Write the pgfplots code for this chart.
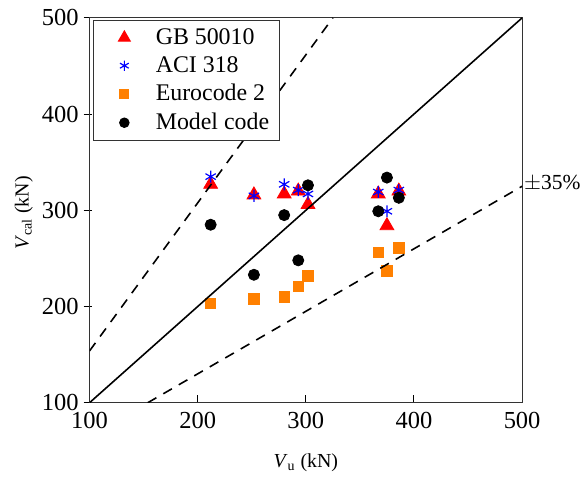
\documentclass[border=0pt]{standalone}
\usepackage{pgfplots}
\pgfplotsset{compat=1.18}
\usepackage{fontspec}
\setmainfont{Liberation Serif}
\definecolor{myorange}{RGB}{255,128,0}
\begin{document}
\begin{tikzpicture}
\begin{axis}[
  scale only axis,
  width=217.5pt, height=193.5pt,
  xmin=100, xmax=500, ymin=100, ymax=500,
  xtick={100,200,300,400,500}, ytick={100,200,300,400,500},
  xtick pos=bottom, ytick pos=left,
  tick align=inside,
  major tick length=4pt,
  y tick style={xshift=-3pt},
  tick style={black, line width=0.5pt},
  axis line style={line width=0.5pt, black!80},
  /pgf/number format/assume math mode=true,
  tick label style={font=\fontsize{12.3}{14}\selectfont},
  yticklabel style={xshift=-2pt},
  xticklabel style={yshift=-1pt},
  xlabel={\textit{V}\textsubscript{u} (kN)},
  ylabel={\textit{V}\textsubscript{cal} (kN)},
  label style={font=\fontsize{13.8}{16}\selectfont},
  every axis x label/.style={at={(axis description cs:0.5,-0.155)}, anchor=center},
  every axis y label/.style={at={(axis description cs:-0.152,0.493)}, anchor=center, rotate=90},
  legend style={at={(axis description cs:0.009,0.995)}, anchor=north west,
    font=\fontsize{12}{14}\selectfont, draw=black!80, line width=0.5pt,
    row sep=0.6pt},
  legend image code/.code={\path (0pt,0pt) (25.5pt,0pt); \draw[mark repeat=2,mark phase=2,#1,mark size=0.85*\pgfplotmarksize] plot coordinates {(0pt,0pt) (12pt,0pt) (24pt,0pt)};},
  legend cell align=left,
  clip mode=individual,
]
\addplot[only marks, mark=triangle*, mark size=4pt, color=red, draw=red, fill=red]
  coordinates {(212,327) (252,316) (280,317) (293,320) (302,306) (367,317) (375,284) (386,320)};
\addlegendentry{GB 50010}
\addplot[only marks, mark=asterisk, mark size=3pt, color=blue, line width=0.6pt]
  coordinates {(212,335) (252,315) (280,327) (293,321) (302,317) (367,319) (375,299) (386,321)};
\addlegendentry{ACI 318}
\addplot[only marks, mark=square*, mark size=2.6pt, color=myorange]
  coordinates {(212,203) (252,208) (280,210) (293,221) (302,232) (367,256) (375,237) (386,261)};
\addlegendentry{Eurocode 2}
\addplot[only marks, mark=*, mark size=2.8pt, color=black]
  coordinates {(212,285) (252,233) (280,295) (293,248) (302,326) (367,299) (375,334) (386,313)};
\addlegendentry{Model code}
\addplot[forget plot, black, line width=0.8pt] coordinates {(100,100) (500,500)};
\addplot[forget plot, black, line width=0.8pt, dash pattern=on 5pt off 4pt] coordinates {(100,153.85) (325,500)};
\addplot[forget plot, black, line width=0.8pt, dash pattern=on 5pt off 4pt] coordinates {(153.85,100) (500,325)};
\node[anchor=west, font=\fontsize{10.8}{13}\selectfont, inner sep=0.8pt] at (axis cs:500,328) {$\pm$35\%};
\path (rel axis cs:-0.207,-0.199) (rel axis cs:1.131,1.0465);
\end{axis}
\end{tikzpicture}
\end{document}
